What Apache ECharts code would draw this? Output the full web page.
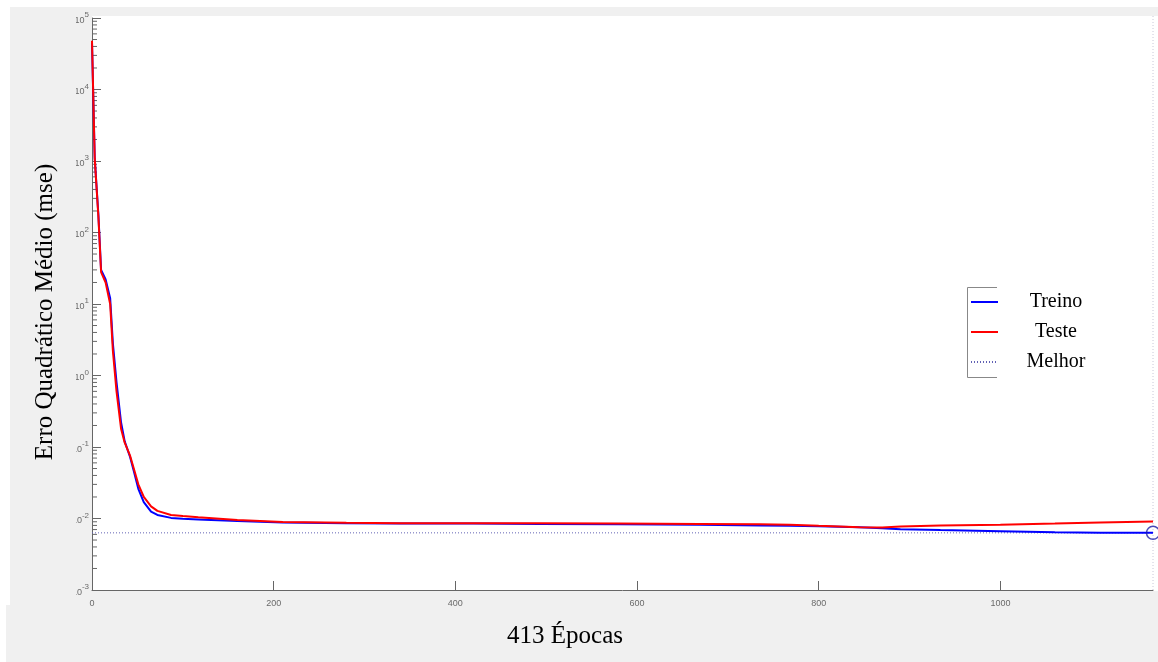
<!DOCTYPE html>
<html>
<head>
<meta charset="utf-8">
<script src="https://cdn.jsdelivr.net/npm/echarts@6/dist/echarts.min.js"></script>
<style>
  html, body { margin: 0; padding: 0; background: #fff; }
  #chart { width: 1158px; height: 662px; }
</style>
</head>
<body>
<div id="chart"></div>
<script>
// Training epochs at which the error was sampled
const epochs = [0, 3, 7, 10, 15, 20, 23, 27, 32, 36, 42, 46, 51, 57, 65, 72, 87, 100, 117, 160, 210,
  280, 339, 420, 493, 580, 669, 735, 768, 800, 845, 870, 890, 934, 1000, 1060, 1110, 1168];

// Mean squared error, training set
const treino = [45000, 1100, 180, 30, 22, 12, 2.8, 0.8, 0.22, 0.12, 0.072, 0.046, 0.026, 0.017,
  0.0125, 0.0112, 0.0102, 0.0099, 0.0097, 0.0092, 0.0088, 0.0086, 0.0085, 0.0085, 0.0084,
  0.0083, 0.0082, 0.0080, 0.0079, 0.0078, 0.00755, 0.0073, 0.0071, 0.0069, 0.00665, 0.0064,
  0.0063, 0.0063];

// Mean squared error, test set
const teste = [48000, 1070, 170, 28, 20, 10, 2.2, 0.6, 0.18, 0.115, 0.075, 0.05, 0.030, 0.020,
  0.0148, 0.0128, 0.0112, 0.0108, 0.0104, 0.0095, 0.0089, 0.0087, 0.0086, 0.0086, 0.0086,
  0.0085, 0.0084, 0.0083, 0.0082, 0.0079, 0.00755, 0.0075, 0.0077, 0.0080, 0.0082, 0.0085,
  0.0088, 0.0091];

// Best (lowest) training error and the epoch where it occurs
const melhorValor = 0.0063;
const melhorEpoca = 1168;

// Axis ranges and tick labels
const xMin = 0, xMax = 1168, xStep = 200;
const yDecades = [-3, -2, -1, 0, 1, 2, 3, 4, 5];
const minorMultipliers = [2, 3, 4, 5, 6, 7, 8, 9];

const legendNames = ['Treino', 'Teste', 'Melhor'];
const xTitle = '413 Épocas';
const yTitle = 'Erro Quadrático Médio (mse)';

const pair = (xs, ys) => xs.map((x, i) => [x, ys[i]]);

// Minor tick positions on the log axis (2..9 within each decade)
const minorTicks = [];
yDecades.slice(0, -1).forEach(d => {
  minorMultipliers.forEach(m => minorTicks.push([0, m * Math.pow(10, d)]));
});

const GRID = { left: 92, top: 18, right: 5, bottom: 72 };
const tickColor = '#666';
const labelColor = '#6a6a6a';

const chart = echarts.init(document.getElementById('chart'), null, { renderer: 'canvas' });

chart.setOption({
  animation: false,
  backgroundColor: '#fff',
  grid: { left: GRID.left, top: GRID.top, right: GRID.right, bottom: GRID.bottom, containLabel: false },
  legend: {
    data: legendNames,
    orient: 'vertical',
    left: 970,
    top: 292,
    itemWidth: 27,
    itemHeight: 10,
    itemGap: 10,
    padding: 0,
    itemStyle: { opacity: 0 },
    formatter: name => '{t|' + name + '}',
    textStyle: {
      rich: {
        t: { fontFamily: 'Liberation Serif', fontSize: 20, color: '#000', width: 106, align: 'center', lineHeight: 20 }
      }
    }
  },
  xAxis: {
    type: 'value',
    min: xMin,
    max: xMax,
    interval: xStep,
    axisLine: { show: true, lineStyle: { color: tickColor, width: 1 } },
    axisTick: { show: true, inside: true, length: 9, lineStyle: { color: tickColor } },
    axisLabel: {
      color: labelColor, fontFamily: 'Liberation Sans', fontSize: 9, margin: 9,
      showMaxLabel: false,
      formatter: v => String(v)
    },
    splitLine: { show: false }
  },
  yAxis: {
    type: 'log',
    logBase: 10,
    min: Math.pow(10, yDecades[0]),
    max: Math.pow(10, yDecades[yDecades.length - 1]),
    splitNumber: yDecades.length - 1,
    axisLine: { show: true, lineStyle: { color: tickColor, width: 1 } },
    axisTick: { show: true, inside: true, length: 9, lineStyle: { color: tickColor } },
    minorTick: { show: false },
    axisLabel: {
      margin: 3,
      formatter: v => {
        const e = Math.round(Math.log10(v));
        return '{m|10}{e|' + e + '}';
      },
      rich: {
        m: { color: labelColor, fontFamily: 'Liberation Sans', fontSize: 9, lineHeight: 14, verticalAlign: 'bottom' },
        e: { color: labelColor, fontFamily: 'Liberation Sans', fontSize: 8, lineHeight: 14, verticalAlign: 'top' }
      }
    },
    splitLine: { show: false }
  },
  graphic: [
    // grey figure panel and white plotting area
    { type: 'rect', shape: { x: 10, y: 7, width: 1148, height: 600 }, style: { fill: '#f0f0f0' }, z: -10, silent: true },
    { type: 'rect', shape: { x: 6, y: 605, width: 1152, height: 57 }, style: { fill: '#f0f0f0' }, z: -10, silent: true },
    { type: 'rect', shape: { x: 92, y: 16, width: 1066, height: 575 }, style: { fill: '#fff' }, z: -9, silent: true },
    // panel edge that trims the wide tick labels on the left
    { type: 'rect', shape: { x: 60, y: 16, width: 16, height: 585 }, style: { fill: '#f0f0f0' }, z: 100, silent: true },
    // dotted right edge of the axes
    { type: 'line', shape: { x1: 1153, y1: 16, x2: 1153, y2: 590 }, style: { stroke: '#c8c8d8', lineWidth: 1, lineDash: [1, 2] }, z: 1, silent: true },
    // legend frame
    { type: 'polyline', shape: { points: [[997, 287.5], [967.5, 287.5], [967.5, 377.5], [997, 377.5]] }, style: { stroke: '#888', lineWidth: 1, fill: null }, z: 5, silent: true },
    // axis titles
    {
      type: 'text', x: 45, y: 312, rotation: Math.PI / 2,
      style: { text: yTitle, font: '25px "Liberation Serif"', fill: '#000', align: 'center', verticalAlign: 'middle' },
      z: 101, silent: true
    },
    {
      type: 'text', x: 565, y: 636,
      style: { text: xTitle, font: '25px "Liberation Serif"', fill: '#000', align: 'center', verticalAlign: 'middle' },
      z: 101, silent: true
    }
  ],
  series: [
    {
      name: 'Melhor', type: 'line', data: [[xMin, melhorValor], [melhorEpoca, melhorValor]],
      symbol: 'none', lineStyle: { color: '#6262b4', width: 1, type: [1, 2] }, itemStyle: { color: '#6262b4' }, z: 1, silent: true
    },
    {
      name: 'Treino', type: 'line', data: pair(epochs, treino),
      symbol: 'none', lineStyle: { color: '#0000ff', width: 2 }, itemStyle: { color: '#0000ff' }, z: 2
    },
    {
      name: 'Teste', type: 'line', data: pair(epochs, teste),
      symbol: 'none', lineStyle: { color: '#ff0000', width: 2 }, itemStyle: { color: '#ff0000' }, z: 3
    },
    {
      name: 'melhor ponto', type: 'scatter', data: [[melhorEpoca, melhorValor]],
      symbol: 'circle', symbolSize: 13, clip: false,
      itemStyle: { color: 'rgba(0,0,0,0)', borderColor: '#1c1ca8', borderWidth: 1.5 }, z: 4, silent: true
    },
    {
      name: 'minor ticks', type: 'custom', data: minorTicks, clip: false, silent: true, z: 1,
      renderItem: (params, api) => {
        const p = api.coord([xMin, api.value(1)]);
        return {
          type: 'line',
          shape: { x1: p[0], y1: p[1], x2: p[0] + 5, y2: p[1] },
          style: { stroke: tickColor, lineWidth: 1 }
        };
      }
    }
  ]
});
</script>
</body>
</html>
